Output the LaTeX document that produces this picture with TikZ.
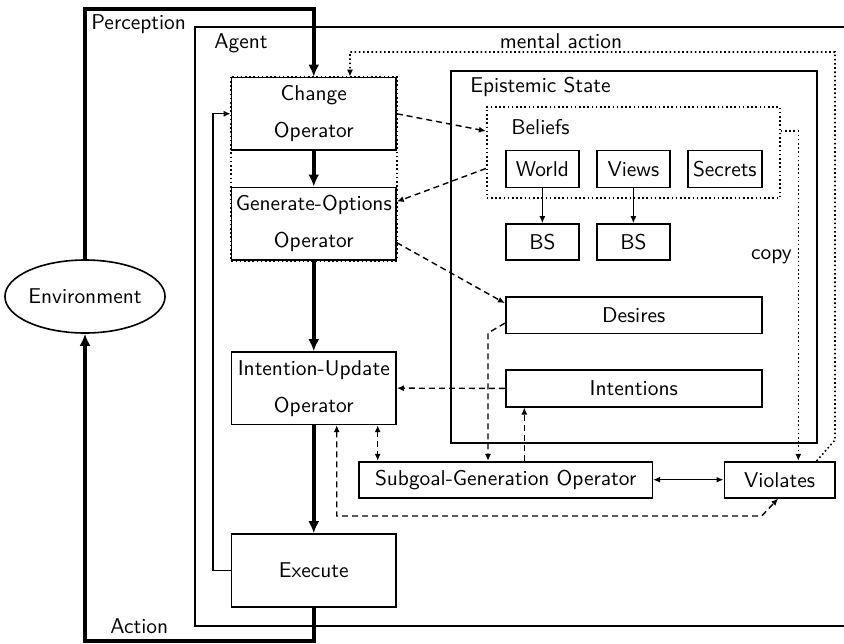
\documentclass[tikz,border=0pt]{standalone}
\usepackage{fontspec}
\usetikzlibrary{arrows.meta,calc,shapes.geometric}
\begin{document}
\begin{tikzpicture}[x=0.5pt,y=-0.5pt,
  every node/.style={font=\fontsize{10.7}{18.5}\selectfont\sffamily},
  box/.style={draw, line width=0.8pt, inner sep=0pt, align=center},
  frame/.style={draw, line width=0.8pt, inner sep=0pt},
  lbl/.style={inner sep=0pt},
  thk/.style={line width=1.8pt, -{Latex[length=6pt,width=5.5pt]}},
  thin/.style={line width=0.7pt},
  arr/.style={-{Latex[length=3.5pt,width=3pt]}},
  barr/.style={{Latex[length=3.5pt,width=3pt]}-{Latex[length=3.5pt,width=3pt]}},
  dsh/.style={line width=0.7pt, dash pattern=on 3pt off 2pt},
  dts/.style={line width=0.8pt, dash pattern=on 0.8pt off 1.3pt}
]
\useasboundingbox (0,0) rectangle (844,643);

% agent frame (open on the right, clipped in original)
\draw[line width=0.8pt] (844,27) -- (195,27) -- (195,626) -- (844,626);
\node[lbl, anchor=west] (perc) at (91,24) {Perception};
\node[lbl, anchor=west] (agent) at (214,43) {Agent};
\node[lbl, anchor=west] (actlbl) at (110,626) {Action};

% environment
\node[draw, ellipse, line width=0.8pt, inner sep=0pt, minimum width=73pt, minimum height=36.5pt] (env) at (85,296.5) {Environment};

% operator column
\node[box, minimum width=82.25pt, minimum height=36.25pt] (chg) at (313.75,113.75) {Change\\Operator};
\node[box, minimum width=82.25pt, minimum height=36.35pt] (gen) at (313.75,223.65) {Generate-Options\\Operator};
\node[box, minimum width=82.25pt, minimum height=36.15pt] (iu) at (313.75,388.15) {Intention-Update\\Operator};
\node[box, minimum width=82.25pt, minimum height=36.35pt] (exe) at (313.75,570.35) {Execute};
\draw[dts] (chg.north west) rectangle (gen.south east);

% epistemic state
\node[frame, minimum width=183pt, minimum height=186pt] (es) at (633.7,256.7) {};
\node[lbl, anchor=west] (eslbl) at (470,87) {Epistemic State};
\node[draw, dts, inner sep=0pt, minimum width=146.65pt, minimum height=45.5pt] (bel) at (633.35,152.5) {};
\node[lbl, anchor=west] (bellbl) at (511,127) {Beliefs};
\node[box, minimum width=36.65pt, minimum height=18.5pt] (world) at (542.35,168.8) {World};
\node[box, minimum width=36.65pt, minimum height=18.5pt] (views) at (633.35,168.8) {Views};
\node[box, minimum width=36.85pt, minimum height=18.5pt] (secrets) at (724.85,168.8) {Secrets};
\node[box, minimum width=36.65pt, minimum height=18pt] (bs1) at (542.35,242) {BS};
\node[box, minimum width=36.65pt, minimum height=18pt] (bs2) at (633.35,242) {BS};
\node[box, minimum width=128pt, minimum height=18.15pt] (des) at (633.7,315.15) {Desires};
\node[box, minimum width=128pt, minimum height=18.35pt] (int) at (633.7,388.35) {Intentions};

\node[box, minimum width=146.65pt, minimum height=18pt] (sub) at (505.65,479.7) {Subgoal-Generation Operator};
\node[box, minimum width=55.35pt, minimum height=18pt] (vio) at (779.65,479.7) {Violates};

% perception / action
\coordinate (pc) at (85,9);
\coordinate (ac) at (85,641);
\draw[thk] (env.north) -- (pc) -| (chg.north);
\draw[thk] (exe.south) |- (ac) -- (env.south);

% main flow
\draw[thk] (chg.south) -- (gen.north);
\draw[thk] (gen.south) -- (iu.north);
\draw[thk] (iu.south) -- (exe.north);

% feedback
\coordinate (fb) at (213,570.35);
\draw[thin, arr] (exe.west) -- (fb) |- (chg.west);

% beliefs internals
\draw[thin, arr] (world.south) -- (bs1.north);
\draw[thin, arr] (views.south) -- (bs2.north);

% dashed links
\draw[dsh, arr] (chg.east) -- ($(bel.west)+(0,-21.5)$);
\draw[dsh, arr] ($(bel.west)+(0,16)$) -- ($(gen.east)+(0,-22)$);
\draw[dsh, arr] ($(gen.east)+(0,19)$) -- ($(des.west)+(0,-12)$);
\draw[dsh, arr] (int.west) -- (iu.east);
\coordinate (dk) at (488,333);
\draw[dsh, arr] ($(des.west)+(0,8)$) -- (dk) -- (dk |- sub.north);
\coordinate (si) at (524.3,0);
\draw[dsh, arr] (si |- sub.north) -- (si |- int.south);
\coordinate (is) at (377.7,0);
\draw[dsh, barr] (is |- iu.south) -- (is |- sub.north);
\coordinate (iv) at (336.7,516);
\coordinate (iv2) at (761.7,516);
\draw[dsh, barr] (iv |- iu.south) -- (iv) -- (iv2) -- ($(vio.south)+(-1.5,0)$);

% subgoal <-> violates
\draw[thin, barr] (sub.east) -- (vio.west);

% copy
\coordinate (cp) at (798.3,131);
\draw[dts, arr] ($(bel.east)+(0,-21.5)$) -- (cp) -- (cp |- vio.north);
\node[lbl, anchor=east] (copylbl) at (792,257) {copy};

% mental action
\coordinate (m1) at (835,440);
\coordinate (m2) at (835,52);
\coordinate (m3) at (350,52);
\draw[dts, arr] ($(vio.north)+(37,0)$) -- (m1) -- (m2) -- (m3) -- (m3 |- chg.north);
\node[lbl] (mlbl) at (561,41) {mental action};
\end{tikzpicture}
\end{document}
